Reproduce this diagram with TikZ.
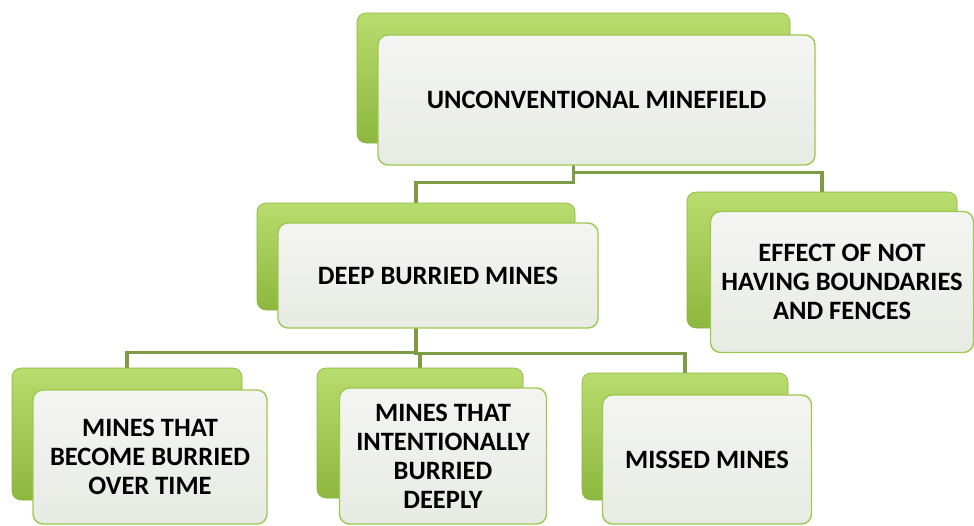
\documentclass[tikz,border=0pt]{standalone}
\usepackage{fontspec}
\setmainfont{Carlito}
\usetikzlibrary{positioning,backgrounds}

\definecolor{backtop}{HTML}{B9DC6E}
\definecolor{backbottom}{HTML}{8DB73E}
\definecolor{backedge}{HTML}{8AB53C}
\definecolor{cardtop}{HTML}{F4F5F2}
\definecolor{cardbottom}{HTML}{E8EAE4}
\definecolor{cardedge}{HTML}{9CC94F}
\definecolor{linkgreen}{HTML}{7E9C45}

\tikzset{
    back/.style={rounded corners=9pt, top color=backtop, bottom color=backbottom,
        draw=backedge, line width=0.6pt},
    card/.style={rounded corners=10pt, top color=cardtop, bottom color=cardbottom,
        draw=cardedge, line width=1.4pt, align=center, inner sep=2pt,
        font=\bfseries\fontsize{26.5}{29}\selectfont},
    link/.style={draw=linkgreen, line width=3.5pt},
}

\begin{document}
\begin{tikzpicture}[x=1pt, y=-1pt]
    \useasboundingbox (0,0) rectangle (974,525);
    % green cards at the back
    \node[back, minimum width=433pt, minimum height=130pt] (topb) at (573.5,78) {};
    \node[back, minimum width=318pt, minimum height=107pt] (deepb) at (416,256.5) {};
    \node[back, minimum width=270pt, minimum height=136pt] (effectb) at (822,260) {};
    \node[back, minimum width=230pt, minimum height=132pt] (overb) at (127,434) {};
    \node[back, minimum width=206pt, minimum height=130pt] (deeplyb) at (420,433) {};
    \node[back, minimum width=206pt, minimum height=127pt] (missedb) at (685,436.5) {};
    % white cards in front
    \node[card, minimum width=437pt, minimum height=130pt] (top)
        at ([shift={(23,22)}]topb.center) {UNCONVENTIONAL MINEFIELD};
    \node[card, minimum width=320pt, minimum height=105pt] (deep)
        at ([shift={(22,19)}]deepb.center) {DEEP BURRIED MINES};
    \node[card, minimum width=263pt, minimum height=141pt] (effect)
        at ([shift={(20,22)}]effectb.center) {EFFECT OF NOT\\HAVING BOUNDARIES\\AND FENCES};
    \node[card, minimum width=234pt, minimum height=134pt] (over)
        at ([shift={(23,23)}]overb.center) {MINES THAT\\BECOME BURRIED\\OVER TIME};
    \node[card, minimum width=207pt, minimum height=136pt] (deeply)
        at ([shift={(23,23)}]deeplyb.center) {MINES THAT\\INTENTIONALLY\\BURRIED\\DEEPLY};
    \node[card, minimum width=209pt, minimum height=129pt] (missed)
        at ([shift={(22,23)}]missedb.center) {MISSED MINES};
    % connectors, behind the cards
    \begin{scope}[on background layer]
        \draw[link] (topb.south) -- ++(0,39) -| (deepb.north);
        \draw[link] (topb.south) -- ++(0,29) -| (effectb.north);
        \draw[link] (deepb.south) -- ++(0,42) -| (overb.north);
        \draw[link] (deepb.south) -- ++(0,43) -| (deeplyb.north);
        \draw[link] (deepb.south) -- ++(0,43) -| (missedb.north);
    \end{scope}
\end{tikzpicture}
\end{document}
